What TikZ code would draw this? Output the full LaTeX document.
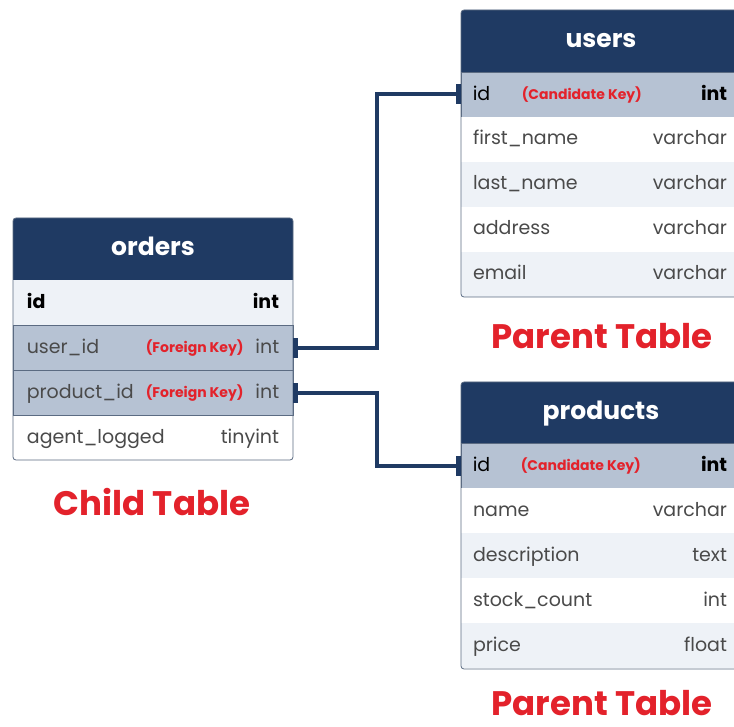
\documentclass[tikz,border=0pt]{standalone}
\usepackage{fontspec}
\setmainfont{Poppins}
\usetikzlibrary{arrows.meta}

\definecolor{navy}{HTML}{1F3A63}
\definecolor{keyrow}{HTML}{B6C2D3}
\definecolor{lightrow}{HTML}{EEF2F7}
\definecolor{keyred}{HTML}{E3222B}
\definecolor{rowtext}{HTML}{4A4A4A}
\definecolor{edgeline}{HTML}{5B6B82}

\tikzset{
  row/.style={rectangle, inner sep=0pt, minimum width=280pt, minimum height=45pt},
  keyfield/.style={row, fill=keyrow, draw=edgeline, line width=0.8pt},
  fieldname/.style={anchor=base west, inner sep=0pt, text=rowtext, font=\fontsize{19}{19}\selectfont},
  fieldtype/.style={anchor=base east, inner sep=0pt, text=rowtext, font=\fontsize{19}{19}\selectfont},
  boldfield/.style={text=black, font=\fontsize{19}{19}\selectfont\bfseries},
  keynote/.style={anchor=base west, inner sep=0pt, text=keyred, font=\fontsize{14}{14}\selectfont\bfseries},
  header/.style={anchor=base, text=white, inner sep=0pt, font=\fontsize{25}{25}\selectfont\bfseries},
  link/.style={draw=navy, line width=4pt, {Bar[width=20pt,line width=5pt]}-{Bar[width=20pt,line width=5pt]}},
  tablabel/.style={text=keyred, inner sep=0pt, font=\fontsize{34}{34}\selectfont\bfseries}
}

\begin{document}
\begin{tikzpicture}[x=1pt, y=-1pt]
\useasboundingbox (0,0) rectangle (734,727);
\clip (0,0) rectangle (734,727);

% orders (child table)
\fill[navy] (13,280) -- (13,240) [rounded corners=3pt] -- (13,218) -- (293,218) -- (293,240) [sharp corners] -- (293,280) -- cycle;
\node[header] (orders) at (153,256) {orders};
\node[row, fill=lightrow] (orders-1) at (153,302.5) {};
\node[keyfield] (orders-2) at (153,348) {};
\node[keyfield] (orders-3) at (153,393) {};
\node[row, fill=white] (orders-4) at (153,438) {};
\node[fieldname, boldfield] at ([xshift=14pt,yshift=-6pt]orders-1.west) {id};
\node[fieldtype, boldfield] at ([xshift=-14pt,yshift=-6pt]orders-1.east) {int};
\node[fieldname] at ([xshift=14pt,yshift=-5.5pt]orders-2.west) {user\_id};
\node[keynote] at ([xshift=133pt,yshift=-5pt]orders-2.west) {(Foreign Key)};
\node[fieldtype] at ([xshift=-14pt,yshift=-5.5pt]orders-2.east) {int};
\node[fieldname] at ([xshift=14pt,yshift=-5.5pt]orders-3.west) {product\_id};
\node[keynote] at ([xshift=133pt,yshift=-5pt]orders-3.west) {(Foreign Key)};
\node[fieldtype] at ([xshift=-14pt,yshift=-5.5pt]orders-3.east) {int};
\node[fieldname] at ([xshift=14pt,yshift=-5.5pt]orders-4.west) {agent\_logged};
\node[fieldtype] at ([xshift=-14pt,yshift=-5.5pt]orders-4.east) {tinyint};
\draw[edgeline, line width=0.8pt, rounded corners=3pt] (13,218) rectangle (293,460);
\node[tablabel] (orderslabel) at (152,502) {Child Table};

% users (parent table)
\fill[navy] (461,72) -- (461,30) [rounded corners=3pt] -- (461,10) -- (741,10) -- (741,30) [sharp corners] -- (741,72) -- cycle;
\node[header] (users) at (601,48) {users};
\node[keyfield] (users-1) at (601,94.5) {};
\foreach \name/\type/\shade [count=\i from 2] in {first\_name/varchar/white, last\_name/varchar/lightrow, address/varchar/white, email/varchar/lightrow}{
  \node[row, fill=\shade] (users-\i) at (601,{117+45*(\i-1.5)}) {};
  \node[fieldname] at ([xshift=12pt,yshift=-5.5pt]users-\i.west) {\name};
  \node[fieldtype] at ([xshift=-14pt,yshift=-5.5pt]users-\i.east) {\type};
}
\node[fieldname, text=black] at ([xshift=12pt,yshift=-6pt]users-1.west) {id};
\node[keynote] at ([xshift=61pt,yshift=-5pt]users-1.west) {(Candidate Key)};
\node[fieldtype, boldfield] at ([xshift=-14pt,yshift=-6pt]users-1.east) {int};
\draw[edgeline, line width=0.8pt, rounded corners=3pt] (461,10) rectangle (741,297);
\node[tablabel] (userslabel) at (602,336) {Parent Table};

% products (parent table)
\fill[navy] (461,443) -- (461,400) [rounded corners=3pt] -- (461,382) -- (741,382) -- (741,400) [sharp corners] -- (741,443) -- cycle;
\node[header] (products) at (601,419) {products};
\node[keyfield] (products-1) at (601,465.5) {};
\foreach \name/\type/\shade [count=\i from 2] in {name/varchar/white, description/text/lightrow, stock\_count/int/white, price/float/lightrow}{
  \node[row, fill=\shade] (products-\i) at (601,{488+45*(\i-1.5)}) {};
  \node[fieldname] at ([xshift=12pt,yshift=-5.5pt]products-\i.west) {\name};
  \node[fieldtype] at ([xshift=-14pt,yshift=-5.5pt]products-\i.east) {\type};
}
\node[fieldname, text=black] at ([xshift=12pt,yshift=-6pt]products-1.west) {id};
\node[keynote] at ([xshift=60pt,yshift=-5pt]products-1.west) {(Candidate Key)};
\node[fieldtype, boldfield] at ([xshift=-14pt,yshift=-6pt]products-1.east) {int};
\draw[edgeline, line width=0.8pt, rounded corners=3pt] (461,382) rectangle (741,669);
\node[tablabel] (productslabel) at (602,703) {Parent Table};

% foreign key links
\draw[link] (orders-2.east) -- ++(84,0) |- (users-1.west);
\draw[link] (orders-3.east) -- ++(84,0) |- (products-1.west);
\end{tikzpicture}
\end{document}
